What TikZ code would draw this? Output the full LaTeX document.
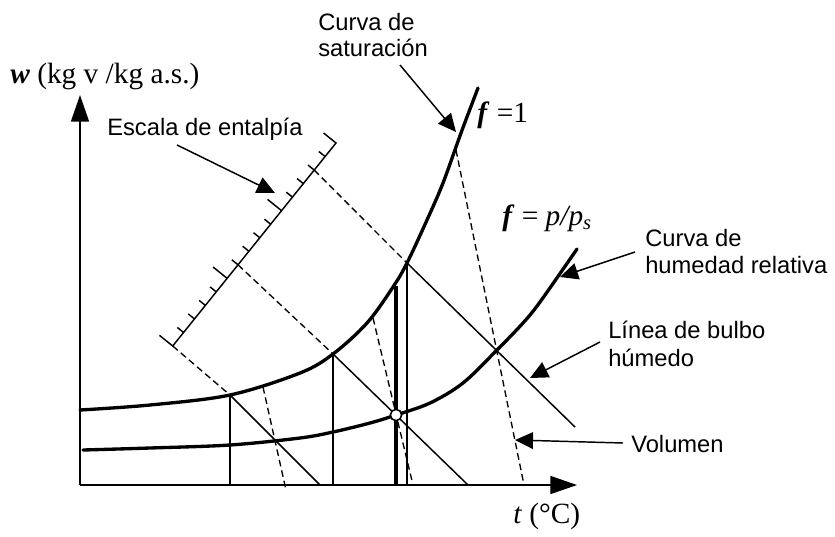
\documentclass[tikz,border=0pt]{standalone}
\usepackage{fontspec}
\setmainfont{Liberation Serif}
\setsansfont{Liberation Sans}
\usetikzlibrary{arrows.meta,calc}
\begin{document}
\begin{tikzpicture}[x=0.75pt,y=-0.75pt,
  thinline/.style={line width=1.1pt},
  thickcurve/.style={line width=2.5pt, line join=round, line cap=round},
  dashline/.style={line width=1pt, dash pattern=on 5pt off 3pt},
  axisline/.style={line width=1.2pt, -{Triangle[length=20pt,width=13.5pt]}},
  callout/.style={line width=1.1pt, -{Triangle[length=13.5pt,width=12.5pt]}},
  sanslabel/.style={font=\sffamily\fontsize{17.8}{21}\selectfont, inner sep=0pt, anchor=base west},
  seriflabel/.style={font=\fontsize{22}{26}\selectfont, inner sep=0pt, anchor=base west},
]
\useasboundingbox (0,0) rectangle (835,536);

% axes
\coordinate (O) at (80,485);
\coordinate (Ytip) at (80,95);
\coordinate (Xtip) at (577,485);
\draw[axisline] (O) -- (Ytip);
\draw[axisline] (O) -- (Xtip);

% enthalpy scale
\coordinate (A) at (172.7,346);
\coordinate (B) at (336,143);
\draw[thinline, line join=miter] ($(A)+(-0.779*17,-0.627*17)$) -- (A) -- (B) -- ($(B)+(-0.779*16,-0.627*16)$);
\foreach \i in {1,...,14} {
  \pgfmathsetmacro{\L}{(\i==5 || \i==10) ? 18 : 8}
  \draw[thinline] ($(A)!\i/15!(B)$) -- ++(-0.779*\L,-0.627*\L);
}

% points
\coordinate (E1) at (A);
\coordinate (E2) at ($(A)!6/15!(B)$);
\coordinate (E3) at ($(A)!13/15!(B)$);
\coordinate (S1) at (230,395);
\coordinate (S2) at (333,354);
\coordinate (S3) at (407,263);
\coordinate (W1) at (320,485);
\coordinate (W2) at (468,485);
\coordinate (W3) at (575,427);
\coordinate (C) at (396,415);

% verticals
\draw[thinline] (S1) -- (S1 |- O);
\draw[thinline] (S2) -- (S2 |- O);
\draw[thinline] (S3) -- (S3 |- O);
\draw[line width=2.6pt] (396,286) coordinate (T) -- (T |- O);

% enthalpy dashed lines and wet bulb lines
\draw[dashline] (E1) -- (S1);
\draw[dashline] (E2) -- (S2);
\draw[dashline] (E3) -- (S3);
\draw[thinline] (S1) -- (W1);
\draw[thinline] (S2) -- (W2);
\draw[thinline] (S3) -- (W3);

% volume lines
\coordinate (V1a) at (263,387);
\coordinate (V1b) at (286,490);
\coordinate (V2a) at (373,318);
\coordinate (V2b) at (413,485);
\coordinate (V3a) at (456,150);
\coordinate (V3b) at (524,485);
\draw[dashline] (V1a) -- (V1b);
\draw[dashline] (V2a) -- (V2b);
\draw[dashline] (V3a) -- (V3b);

% curves
\draw[thickcurve] plot[smooth, tension=0.55] coordinates {(80,410) (150,405) (230,395) (300,373) (333,354) (367,323) (393,287) (407,263) (427,220) (443,183) (461,133) (478,88)};
\draw[thickcurve] plot[smooth, tension=0.55] coordinates {(83,450) (150,448) (230,445) (300,438) (333,432) (370,423) (396,415) (430,403) (463,383) (497,350) (523,323) (540,302) (577,249)};

\node[circle, draw, fill=white, line width=1.2pt, minimum size=8.5pt, inner sep=0pt] (Cnode) at (C) {};

% labels
\node[seriflabel] (ylab) at (10,83) {\textbf{\textit{w}} (kg v /kg a.s.)};
\node[seriflabel] (xlab) at (513,523) {\textit{t} (°C)};
\node[seriflabel] (phi1) at (477,122) {\textbf{\textit{f}} =1};
\node[seriflabel] (phip) at (502,225) {\textbf{\textit{f}} = \textit{p/p}\textsubscript{\textit{s}}};

\node[sanslabel] (esc) at (107,135) {Escala de entalpía};
\node[sanslabel] (sat1) at (318,30) {Curva de};
\node[sanslabel] (sat2) at (318,56) {saturación};
\node[sanslabel] (hum1) at (645,246) {Curva de};
\node[sanslabel] (hum2) at (645,273) {humedad relativa};
\node[sanslabel] (bul1) at (608,338) {Línea de bulbo};
\node[sanslabel] (bul2) at (608,366) {húmedo};
\node[sanslabel] (vol) at (631,452) {Volumen};

% callout arrows
\coordinate (escS) at (177,145);  \coordinate (escT) at (275,193);
\coordinate (satS) at (400,65);   \coordinate (satT) at (456,132);
\coordinate (humS) at (635,252);  \coordinate (humT) at (560,277);
\coordinate (bulS) at (600,342);  \coordinate (bulT) at (530,378);
\coordinate (volS) at (623,443);  \coordinate (volT) at (515,440);
\draw[callout] (escS) -- (escT);
\draw[callout] (satS) -- (satT);
\draw[callout] (humS) -- (humT);
\draw[callout] (bulS) -- (bulT);
\draw[callout] (volS) -- (volT);
\end{tikzpicture}
\end{document}
